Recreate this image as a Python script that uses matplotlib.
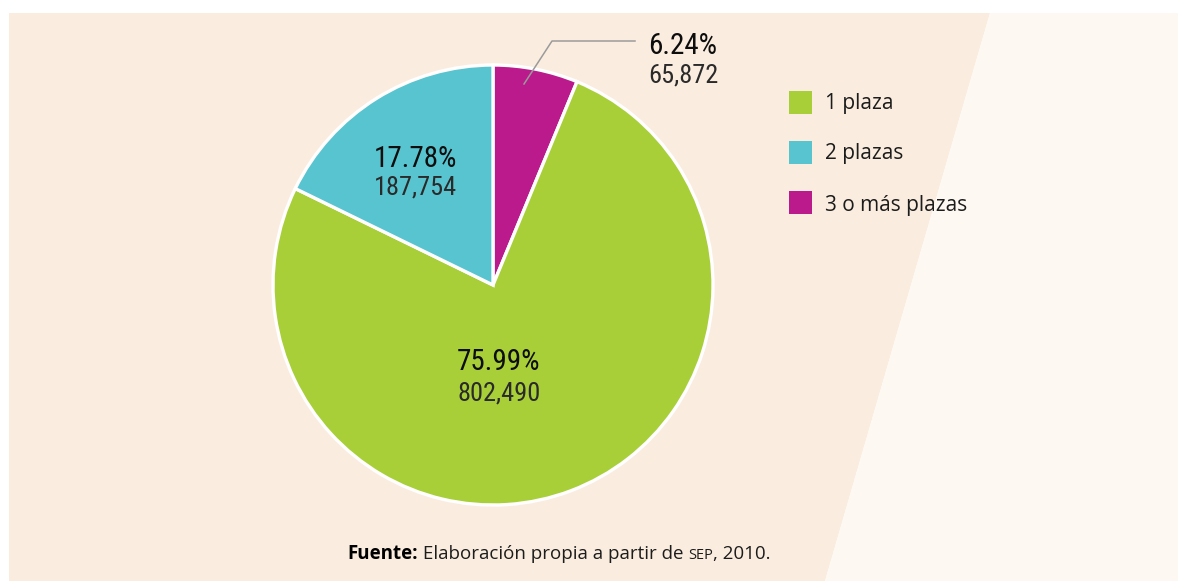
import matplotlib
matplotlib.use("Agg")
import matplotlib.pyplot as plt
from matplotlib import font_manager
from matplotlib.patches import Polygon, Rectangle
from matplotlib.offsetbox import TextArea, HPacker, AnnotationBbox

# data
categorias = ["1 plaza", "2 plazas", "3 o más plazas"]
escuelas = [802490, 187754, 65872]
porcentajes = [75.99, 17.78, 6.24]
colores = ["#A8CF38", "#58C4D0", "#BA1A8B"]

# condensed face for the slice labels, Open Sans for the rest
nombres = {f.name for f in font_manager.fontManager.ttflist}
angosta = "Open Sans"
for cand in ["Roboto Condensed", "Liberation Sans Narrow", "Open Sans Condensed"]:
    if cand in nombres:
        angosta = cand
        break
plt.rcParams["font.family"] = ["Open Sans", "DejaVu Sans"]
tinta = "#1c1c1c"

W, H = 1178, 581
fig = plt.figure(figsize=(W / 100, H / 100), dpi=100)
ax = fig.add_axes([0, 0, 1, 1])

def Y(y):
    return H - y

# background panels
ax.add_patch(Polygon([(9, Y(13)), (990, Y(13)), (825, Y(581)), (9, Y(581))],
                     closed=True, fc="#FAEDDF", ec="none", zorder=0))
ax.add_patch(Polygon([(990, Y(13)), (W, Y(13)), (W, Y(581)), (825, Y(581))],
                     closed=True, fc="#FDF8F1", ec="none", zorder=0))

# pie: clockwise from 12 o'clock, smallest slice first
orden = [2, 0, 1]
wedges, _ = ax.pie([escuelas[i] for i in orden], colors=[colores[i] for i in orden],
                   startangle=90, counterclock=False, radius=220, center=(493, Y(285)),
                   wedgeprops=dict(edgecolor="white", linewidth=2.4))
for w in wedges:
    w.set_zorder(2)

ax.set_xlim(0, W)
ax.set_ylim(0, H)
ax.set_aspect("auto")
ax.axis("off")

def etiqueta(i, x, y_pct, y_val, ha="center"):
    ax.text(x, Y(y_pct), f"{porcentajes[i]:.2f}%", ha=ha, va="center",
            fontsize=21, family=[angosta, "DejaVu Sans"], color="#0d0d0d", zorder=3)
    ax.text(x, Y(y_val), f"{escuelas[i]:,}", ha=ha, va="center",
            fontsize=19, family=[angosta, "DejaVu Sans"], color="#2a2a2a", zorder=3)

etiqueta(0, 499, 362, 393)
etiqueta(1, 415, 159, 188)
etiqueta(2, 648, 46, 75, ha="left")

# leader for the small slice
ax.plot([524, 552, 635], [Y(84), Y(41), Y(41)], color="#9A9A9A", lw=1.1, zorder=3)

# legend
for k, (nombre, c) in enumerate(zip(categorias, colores)):
    ax.add_patch(Rectangle((789, Y(113.5 + 50 * k)), 23, 23, fc=c, ec="none", zorder=3))
    ax.text(825, Y(103 + 51 * k), nombre, ha="left", va="center", fontsize=15, color=tinta)

# source note
partes = [TextArea("Fuente:", textprops=dict(fontsize=13.5, fontweight="bold", color="black")),
          TextArea(" Elaboración propia a partir de ", textprops=dict(fontsize=13.5, color=tinta)),
          TextArea("SEP", textprops=dict(fontsize=10.5, color=tinta)),
          TextArea(", 2010.", textprops=dict(fontsize=13.5, color=tinta))]
fila = HPacker(children=partes, align="baseline", pad=0, sep=0)
ax.add_artist(AnnotationBbox(fila, (559, Y(554)), frameon=False, box_alignment=(0.5, 0.5),
                             pad=0, zorder=3))

fig.savefig("out.png", dpi=100, facecolor="white")
